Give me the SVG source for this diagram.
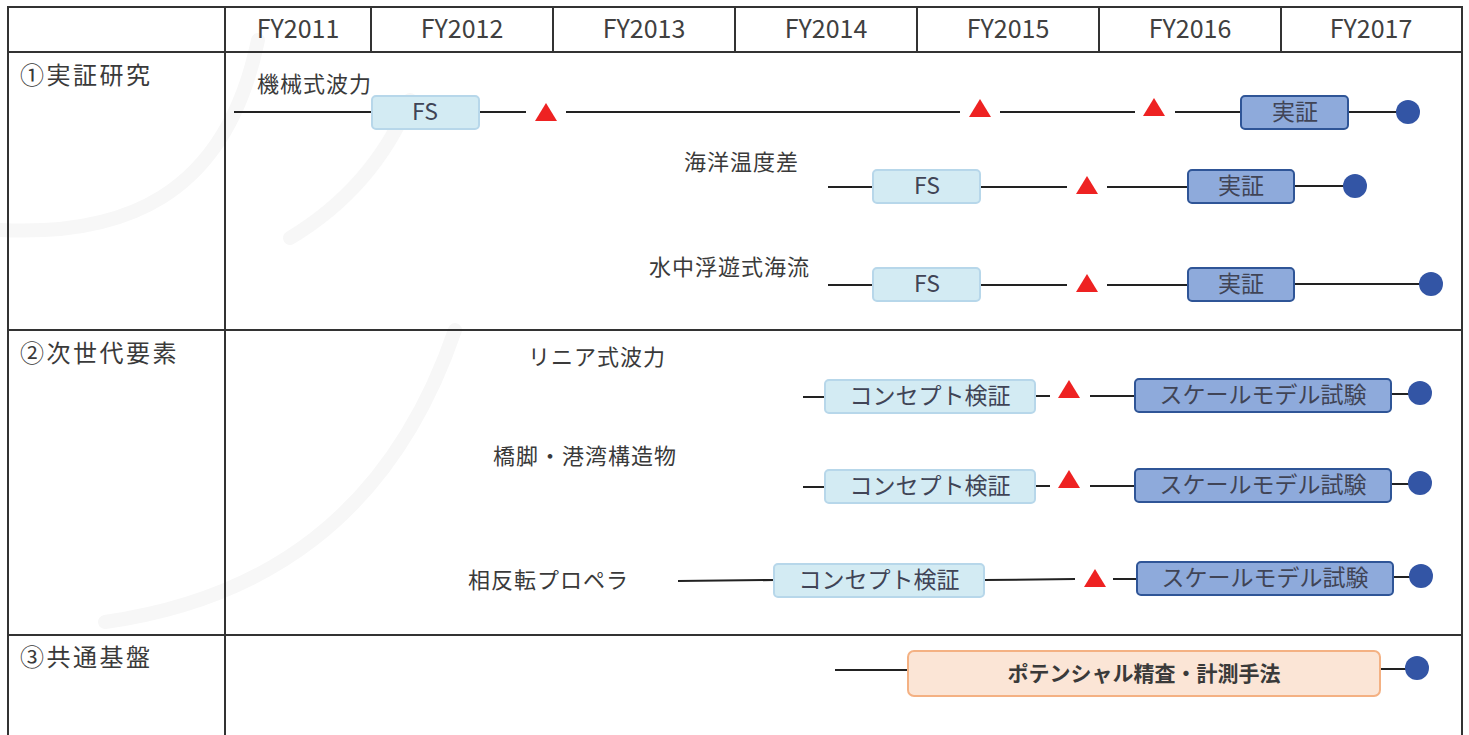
<svg xmlns="http://www.w3.org/2000/svg" width="1469" height="735" viewBox="0 0 1469 735">
<defs>
<style>
.t{font-family:"Noto Sans CJK JP","Noto Sans",sans-serif;fill:#3a3a3a}
.yr{font-size:25px;text-anchor:middle;fill:#404040}
.sec{font-size:24px;letter-spacing:2.5px}
.lbl{font-size:22px;letter-spacing:1px}
.bt{font-size:23px;text-anchor:middle;fill:#404456}
.grid{stroke:#333;stroke-width:2;fill:none}
.ln{stroke:#222;stroke-width:2;fill:none}
.wm{stroke:#f7f7f7;stroke-width:14;fill:none;stroke-linecap:round}
.fs{fill:#d3ebf3;stroke:#b7d7ea;stroke-width:2}
.dm{fill:#8eaadb;stroke:#2f5597;stroke-width:2}
.or{fill:#fbe5d6;stroke:#f4b183;stroke-width:2}
.tri{fill:#ee2222}
.dot{fill:#3355a5}
</style>
</defs>
<rect width="1469" height="735" fill="#fff"/>
<g id="watermark">
<path class="wm" d="M0 230 C120 236 225 200 258 40"/>
<path class="wm" d="M290 238 C345 205 385 160 410 100"/>
<path class="wm" d="M105 622 C260 600 390 520 455 330"/>
</g>
<g id="table">
<rect class="grid" x="8" y="7" width="1454" height="740"/>
<line class="grid" x1="225" y1="7" x2="225" y2="740"/>
<line class="grid" x1="8" y1="52" x2="1462" y2="52"/>
<line class="grid" x1="8" y1="330" x2="1462" y2="330"/>
<line class="grid" x1="8" y1="635" x2="1462" y2="635"/>
<line class="grid" x1="371" y1="7" x2="371" y2="52"/>
<line class="grid" x1="553" y1="7" x2="553" y2="52"/>
<line class="grid" x1="735" y1="7" x2="735" y2="52"/>
<line class="grid" x1="917" y1="7" x2="917" y2="52"/>
<line class="grid" x1="1099" y1="7" x2="1099" y2="52"/>
<line class="grid" x1="1281" y1="7" x2="1281" y2="52"/>
<text class="t yr" x="298" y="38">FY2011</text>
<text class="t yr" x="462" y="38">FY2012</text>
<text class="t yr" x="644" y="38">FY2013</text>
<text class="t yr" x="826" y="38">FY2014</text>
<text class="t yr" x="1008" y="38">FY2015</text>
<text class="t yr" x="1190" y="38">FY2016</text>
<text class="t yr" x="1371" y="38">FY2017</text>
<text class="t sec" x="20" y="84">①実証研究</text>
<text class="t sec" x="20" y="362">②次世代要素</text>
<text class="t sec" x="20" y="666">③共通基盤</text>
</g>
<g id="connectors">
<line class="ln" x1="234" y1="112" x2="372" y2="112"/>
<line class="ln" x1="479" y1="112" x2="526" y2="112"/>
<line class="ln" x1="566" y1="112" x2="960" y2="112"/>
<line class="ln" x1="1000" y1="112" x2="1135" y2="112"/>
<line class="ln" x1="1175" y1="112" x2="1241" y2="112"/>
<line class="ln" x1="1348" y1="112" x2="1398" y2="112"/>
<line class="ln" x1="828" y1="187" x2="873" y2="187"/>
<line class="ln" x1="980" y1="187" x2="1067" y2="187"/>
<line class="ln" x1="1107" y1="187" x2="1188" y2="187"/>
<line class="ln" x1="1294" y1="186" x2="1345" y2="186"/>
<line class="ln" x1="828" y1="285" x2="873" y2="285"/>
<line class="ln" x1="980" y1="285" x2="1067" y2="285"/>
<line class="ln" x1="1107" y1="285" x2="1188" y2="285"/>
<line class="ln" x1="1294" y1="284" x2="1421" y2="284"/>
<line class="ln" x1="803" y1="397" x2="825" y2="397"/>
<line class="ln" x1="1035" y1="396" x2="1050" y2="396"/>
<line class="ln" x1="1090" y1="396" x2="1135" y2="396"/>
<line class="ln" x1="1391" y1="394" x2="1410" y2="394"/>
<line class="ln" x1="803" y1="487" x2="825" y2="487"/>
<line class="ln" x1="1035" y1="486" x2="1050" y2="486"/>
<line class="ln" x1="1090" y1="486" x2="1135" y2="486"/>
<line class="ln" x1="1391" y1="484" x2="1410" y2="484"/>
<line class="ln" x1="678" y1="581" x2="774" y2="580"/>
<line class="ln" x1="984" y1="580" x2="1075" y2="579"/>
<line class="ln" x1="1113" y1="579" x2="1137" y2="579"/>
<line class="ln" x1="1393" y1="577" x2="1411" y2="577"/>
<line class="ln" x1="835" y1="670" x2="908" y2="670"/>
<line class="ln" x1="1380" y1="669" x2="1407" y2="669"/>
</g>
<g id="row-kikai">
<text class="t lbl" x="257" y="92">機械式波力</text>
<g id="kikai-fs"><rect class="fs" x="372" y="96" width="107" height="33" rx="4"/><text class="t bt" x="425" y="120">FS</text></g>
<polygon class="tri" points="546,103 557,121 535,121"/>
<polygon class="tri" points="980,99 991,117 969,117"/>
<polygon class="tri" points="1154,98 1165,116 1143,116"/>
<g id="kikai-jissho"><rect class="dm" x="1241" y="96" width="107" height="33" rx="4"/><text class="t bt" x="1295" y="120">実証</text></g>
<circle class="dot" cx="1408" cy="112" r="12"/>
</g>
<g id="row-ondo">
<text class="t lbl" x="684" y="170">海洋温度差</text>
<g id="ondo-fs"><rect class="fs" x="873" y="170" width="107" height="33" rx="4"/><text class="t bt" x="927" y="194">FS</text></g>
<polygon class="tri" points="1087,176 1098,194 1076,194"/>
<g id="ondo-jissho"><rect class="dm" x="1188" y="170" width="106" height="33" rx="4"/><text class="t bt" x="1241" y="194">実証</text></g>
<circle class="dot" cx="1355" cy="186" r="12"/>
</g>
<g id="row-kairyu">
<text class="t lbl" x="649" y="275">水中浮遊式海流</text>
<g id="kairyu-fs"><rect class="fs" x="873" y="268" width="107" height="33" rx="4"/><text class="t bt" x="927" y="292">FS</text></g>
<polygon class="tri" points="1087,274 1098,292 1076,292"/>
<g id="kairyu-jissho"><rect class="dm" x="1188" y="268" width="106" height="33" rx="4"/><text class="t bt" x="1241" y="292">実証</text></g>
<circle class="dot" cx="1431" cy="284" r="12"/>
</g>
<g id="row-linear">
<text class="t lbl" x="528" y="365">リニア式波力</text>
<g id="linear-concept"><rect class="fs" x="825" y="380" width="210" height="33" rx="4"/><text class="t bt" x="930" y="404">コンセプト検証</text></g>
<polygon class="tri" points="1069,380 1080,398 1058,398"/>
<g id="linear-scale"><rect class="dm" x="1135" y="379" width="256" height="33" rx="4"/><text class="t bt" x="1263" y="403">スケールモデル試験</text></g>
<circle class="dot" cx="1420" cy="393" r="12"/>
</g>
<g id="row-kyokyaku">
<text class="t lbl" x="493" y="464">橋脚・港湾構造物</text>
<g id="kyokyaku-concept"><rect class="fs" x="825" y="470" width="210" height="33" rx="4"/><text class="t bt" x="930" y="494">コンセプト検証</text></g>
<polygon class="tri" points="1069,470 1080,488 1058,488"/>
<g id="kyokyaku-scale"><rect class="dm" x="1135" y="469" width="256" height="33" rx="4"/><text class="t bt" x="1263" y="493">スケールモデル試験</text></g>
<circle class="dot" cx="1420" cy="483" r="12"/>
</g>
<g id="row-propeller">
<text class="t lbl" x="468" y="588">相反転プロペラ</text>
<g id="propeller-concept"><rect class="fs" x="774" y="564" width="210" height="33" rx="4"/><text class="t bt" x="879" y="588">コンセプト検証</text></g>
<polygon class="tri" points="1095,569 1106,587 1084,587"/>
<g id="propeller-scale"><rect class="dm" x="1137" y="562" width="256" height="33" rx="4"/><text class="t bt" x="1265" y="586">スケールモデル試験</text></g>
<circle class="dot" cx="1421" cy="576" r="12"/>
</g>
<g id="row-common">
<g id="common-potential"><rect class="or" x="908" y="651" width="472" height="45" rx="6"/><text class="t" x="1144" y="681" font-size="21" font-weight="bold" text-anchor="middle" fill="#3a3d4a">ポテンシャル精査・計測手法</text></g>
<circle class="dot" cx="1417" cy="668" r="12"/>
</g>
</svg>
